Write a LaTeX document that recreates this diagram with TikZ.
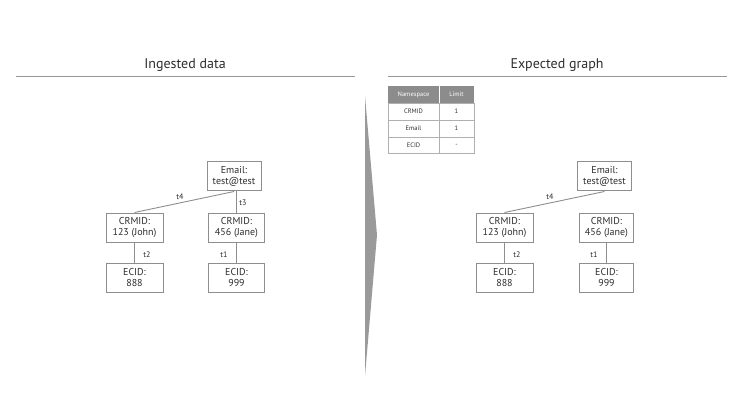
\documentclass[tikz,border=0pt]{standalone}
\usepackage{fontspec}
\setmainfont{PT Sans}
\definecolor{edgegray}{HTML}{8E8E8E}
\definecolor{txt}{HTML}{2E2E2E}
\definecolor{hdr}{HTML}{8C8C8C}
\definecolor{wedge}{HTML}{9A9A9A}
\begin{document}
\begin{tikzpicture}[x=1pt,y=-1pt,
  idbox/.style={draw=edgegray, line width=1pt, fill=white, text=txt, font=\fontsize{10}{11.5}\selectfont, align=center, inner sep=0pt, minimum height=29pt},
  conn/.style={draw=edgegray, line width=0.9pt},
  elabel/.style={text=txt, font=\fontsize{8}{9}\selectfont, inner sep=0pt},
  title/.style={text=txt, font=\fontsize{14}{16}\selectfont, inner sep=0pt},
  rule/.style={draw=edgegray!90, line width=1pt},
  cell/.style={draw=edgegray!70, line width=0.8pt, fill=white},
  celltxt/.style={text=txt, font=\fontsize{6.5}{7.5}\selectfont, inner sep=0pt},
  hdrtxt/.style={text=white, font=\fontsize{6.5}{7.5}\selectfont, inner sep=0pt}]
\useasboundingbox (0,0) rectangle (750,417);
\fill[white] (0,0) rectangle (750,417);

% headers
\node[title] (t1) at (185,65) {Ingested data};
\node[title] (t2) at (557,65) {Expected graph};
\draw[rule] (16,77) -- (355,77);
\draw[rule] (388,77) -- (727,77);

% wedge
\fill[wedge] (365,96) -- (377,235) -- (365,376) -- cycle;

% table
\fill[hdr] (388,86) rectangle (474,103);
\draw[white, line width=0.8pt] (439,86) -- (439,103);
\draw[cell] (388,103) rectangle (439,120);
\draw[cell] (439,103) rectangle (474,120);
\draw[cell] (388,120) rectangle (439,137);
\draw[cell] (439,120) rectangle (474,137);
\draw[cell] (388,137) rectangle (439,153);
\draw[cell] (439,137) rectangle (474,153);
\node[hdrtxt] (h1) at (413.5,94.5) {Namespace};
\node[hdrtxt] (h2) at (456.5,94.5) {Limit};
\node[celltxt] (r1a) at (413.5,111.5) {CRMID};
\node[celltxt] (r1b) at (456.5,111.5) {1};
\node[celltxt] (r2a) at (413.5,128.5) {Email};
\node[celltxt] (r2b) at (456.5,128.5) {1};
\node[celltxt] (r3a) at (413.5,145) {ECID};
\node[celltxt] (r3b) at (456.5,145) {-};

% left graph
\node[idbox, minimum width=54pt] (emL) at (234,176.5) {Email:\\test@test};
\node[idbox, minimum width=57pt] (c1L) at (134.5,227.5) {CRMID:\\123 (John)};
\node[idbox, minimum width=56pt] (c2L) at (236.5,227.5) {CRMID:\\456 (Jane)};
\node[idbox, minimum width=57pt] (e1L) at (134.5,277.5) {ECID:\\888};
\node[idbox, minimum width=56pt] (e2L) at (236.5,277.5) {ECID:\\999};
\draw[conn] (emL.south) -- (c1L.north);
\draw[conn] (c2L.north) -- (c2L.north |- emL.south);
\draw[conn] (c1L.south) -- (e1L.north);
\draw[conn] (c2L.south) -- (e2L.north);
\node[elabel] (l4L) at (180,197) {t4};
\node[elabel] (l3L) at (243,203) {t3};
\node[elabel] (l2L) at (147,255) {t2};
\node[elabel] (l1L) at (224,255) {t1};

% right graph
\node[idbox, minimum width=54pt] (emR) at (604.5,176.5) {Email:\\test@test};
\node[idbox, minimum width=57pt] (c1R) at (504.5,227.5) {CRMID:\\123 (John)};
\node[idbox, minimum width=54pt] (c2R) at (606.5,227.5) {CRMID:\\456 (Jane)};
\node[idbox, minimum width=57pt] (e1R) at (504.5,277.5) {ECID:\\888};
\node[idbox, minimum width=54pt] (e2R) at (606.5,277.5) {ECID:\\999};
\draw[conn] (emR.south) -- (c1R.north);
\draw[conn] (c1R.south) -- (e1R.north);
\draw[conn] (c2R.south) -- (e2R.north);
\node[elabel] (l4R) at (550,197) {t4};
\node[elabel] (l2R) at (517,255) {t2};
\node[elabel] (l1R) at (594,255) {t1};
\end{tikzpicture}
\end{document}
